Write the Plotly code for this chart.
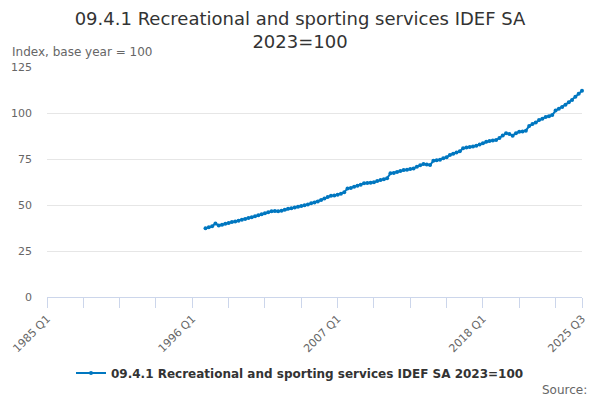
import plotly.graph_objects as go

# Categories: quarters 1985 Q1 .. 2025 Q3
years = list(range(1985, 2026))
quarters = [f"{y} Q{q}" for y in years for q in range(1, 5)]
quarters = quarters[: quarters.index("2025 Q3") + 1]

series_name = "09.4.1 Recreational and sporting services IDEF SA 2023=100"
first_period = "1997 Q1"

values = [
    37.3, 37.9, 38.4, 40.0,   # 1997
    38.8, 39.3, 39.8, 40.2,   # 1998
    40.8, 41.1, 41.5, 42.0,   # 1999
    42.4, 43.0, 43.3, 43.9,   # 2000
    44.4, 45.0, 45.5, 46.1,   # 2001
    46.6, 46.8, 46.6, 46.9,   # 2002
    47.4, 47.9, 48.3, 48.7,   # 2003
    49.1, 49.5, 49.8, 50.3,   # 2004
    51.0, 51.4, 51.9, 52.7,   # 2005
    53.5, 54.3, 55.0, 55.2,   # 2006
    55.6, 56.1, 56.9, 59.0,   # 2007
    59.3, 59.9, 60.4, 61.0,   # 2008
    61.8, 61.9, 62.1, 62.4,   # 2009
    63.0, 63.6, 64.0, 64.6,   # 2010
    67.2, 67.4, 67.9, 68.5,   # 2011
    69.0, 69.2, 69.5, 69.9,   # 2012
    70.8, 71.6, 72.3, 72.0,   # 2013
    71.7, 74.1, 74.3, 74.6,   # 2014
    75.4, 76.0, 77.2, 77.8,   # 2015
    78.5, 79.2, 80.8, 81.3,   # 2016
    81.5, 81.8, 82.2, 82.9,   # 2017
    83.6, 84.4, 84.8, 85.1,   # 2018
    85.3, 86.4, 87.8, 89.0,   # 2019
    88.6, 87.7, 89.0, 89.8,   # 2020
    90.0, 90.4, 92.9, 94.0,   # 2021
    94.9, 96.2, 96.9, 97.8,   # 2022
    98.3, 98.9, 101.3, 102.3, # 2023
    103.3, 104.5, 105.8, 107.1,  # 2024
    108.8, 110.5, 112.1,      # 2025
]

start = quarters.index(first_period)
x_vals = quarters[start:start + len(values)]

y_ticks = [0, 25, 50, 75, 100, 125]
labelled_ticks = ["1985 Q1", "1996 Q1", "2007 Q1", "2018 Q1", "2025 Q3"]

# tick marks every 11 quarters plus the last one
tick_vals = quarters[::11]
if quarters[-1] not in tick_vals:
    tick_vals.append(quarters[-1])
tick_text = [t if t in labelled_ticks else "" for t in tick_vals]

color = "#0077c0"
font = "DejaVu Sans, sans-serif"

# page has an 8px body offset; layout numbers below are in figure pixels
W, H = 600, 400
L, R, T, B = 39, 26, 59, 111
PW, PH = W - L - R, H - T - B

fig = go.Figure()
fig.add_trace(go.Scatter(
    x=x_vals, y=values, name="<b>" + series_name + "</b>", mode="lines+markers",
    line=dict(color=color, width=2),
    marker=dict(color=color, size=4),
    cliponaxis=False,
))

fig.update_layout(
    width=W, height=H,
    margin=dict(l=L, r=R, t=T, b=B, autoexpand=False),
    paper_bgcolor="white", plot_bgcolor="white",
    font=dict(family=font, color="#666666", size=11),
    title=dict(
        text="09.4.1 Recreational and sporting services IDEF SA<br>2023=100",
        x=292 / W, xanchor="center", xref="container",
        y=1 - 17 / H, yanchor="middle", yref="container",
        font=dict(size=18, color="#333333", family=font),
    ),
    showlegend=True,
    legend=dict(
        orientation="h", x=292 / W, xanchor="center", xref="container",
        y=1 - 365 / H, yanchor="middle", yref="container",
        font=dict(size=12, color="#333333", family=font),
    ),
    xaxis=dict(
        type="category", categoryorder="array", categoryarray=quarters,
        range=[0, len(quarters) - 1],
        tickmode="array", tickvals=tick_vals, ticktext=tick_text,
        tickangle=-45, ticks="outside", ticklen=10, tickcolor="#ccd6eb",
        showline=True, linecolor="#ccd6eb", linewidth=1,
        showgrid=False, zeroline=False,
        tickfont=dict(size=11, color="#666666"),
    ),
    yaxis=dict(
        range=[0, 125], tickvals=y_ticks,
        showgrid=True, gridcolor="#e6e6e6", zeroline=False,
        showline=False, ticks="", ticklabelstandoff=14,
        tickfont=dict(size=11, color="#666666"),
    ),
)

fig.add_annotation(
    text="Index, base year = 100", xref="paper", yref="paper",
    x=(2 - L) / PW, y=(H - B - 44) / PH, xanchor="left", yanchor="middle",
    showarrow=False,
    font=dict(size=12, color="#666666", family=font),
)
fig.add_annotation(
    text="Source:", xref="paper", yref="paper",
    x=(581 - L) / PW, y=(H - B - 382) / PH, xanchor="right", yanchor="middle",
    showarrow=False,
    font=dict(size=12, color="#666666", family=font),
)

fig.write_html("out.html")
